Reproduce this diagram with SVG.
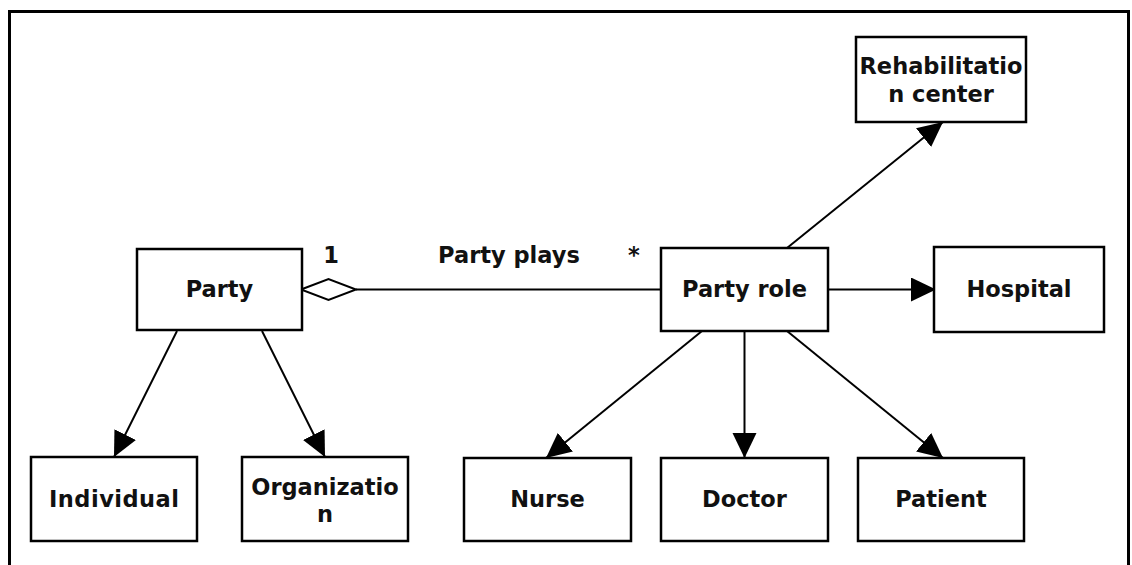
<svg xmlns="http://www.w3.org/2000/svg" width="1132" height="565" viewBox="0 0 1132 565">
  <style>
    .box { fill: #fff; stroke: #000; stroke-width: 2.5; }
    .lbl { font-family: "DejaVu Sans", Verdana, sans-serif; font-weight: bold; font-size: 22.5px; fill: #111; text-anchor: middle; }
    .edge { stroke: #000; stroke-width: 2; fill: none; }
  </style>
  <defs>
    <marker id="arrow" markerUnits="userSpaceOnUse" markerWidth="27" markerHeight="25" refX="25" refY="12" orient="auto">
      <path d="M0,0 L25,12 L0,24 Z" fill="#000"/>
    </marker>
  </defs>
  <rect width="1132" height="565" fill="#fff"/>
  <!-- outer frame -->
  <rect x="9.5" y="11.5" width="1119" height="600" fill="none" stroke="#000" stroke-width="3"/>

  <g id="connectors">
    <!-- aggregation Party <> Party role -->
    <line class="edge" x1="356" y1="289.5" x2="661" y2="289.5"/>
    <polygon points="301,289.5 328.5,279 356,289.5 328.5,300" fill="#fff" stroke="#000" stroke-width="2"/>
    <text class="lbl" x="331" y="263" font-size="20">1</text>
    <text class="lbl" x="509" y="263" font-size="21">Party plays</text>
    <text class="lbl" x="634" y="263" font-size="20">*</text>
    <!-- generalisations -->
    <line class="edge" x1="177" y1="331" x2="114" y2="457" marker-end="url(#arrow)"/>
    <line class="edge" x1="262" y1="331" x2="325" y2="457" marker-end="url(#arrow)"/>
    <line class="edge" x1="702" y1="331" x2="546" y2="458" marker-end="url(#arrow)"/>
    <line class="edge" x1="744.5" y1="331" x2="744.5" y2="458" marker-end="url(#arrow)"/>
    <line class="edge" x1="787" y1="331" x2="943" y2="458" marker-end="url(#arrow)"/>
    <line class="edge" x1="828" y1="289.5" x2="936" y2="289.5" marker-end="url(#arrow)"/>
    <line class="edge" x1="787" y1="248" x2="943" y2="122" marker-end="url(#arrow)"/>
  </g>

  <g id="party">
    <rect class="box" x="137" y="249" width="165" height="81"/>
    <text class="lbl" x="219.5" y="297">Party</text>
  </g>
  <g id="party-role">
    <rect class="box" x="661" y="248" width="167" height="83"/>
    <text class="lbl" x="744.5" y="297">Party role</text>
  </g>
  <g id="hospital">
    <rect class="box" x="934" y="247" width="170" height="85"/>
    <text class="lbl" x="1019" y="297">Hospital</text>
  </g>
  <g id="rehabilitation-center">
    <rect class="box" x="856" y="37" width="170" height="85"/>
    <text class="lbl" x="941" y="74">Rehabilitatio</text>
    <text class="lbl" x="941" y="102">n center</text>
  </g>
  <g id="individual">
    <rect class="box" x="31" y="457" width="166" height="84"/>
    <text class="lbl" x="114" y="507" textLength="130" lengthAdjust="spacing">Individual</text>
  </g>
  <g id="organization">
    <rect class="box" x="242" y="457" width="166" height="84"/>
    <text class="lbl" x="325" y="495">Organizatio</text>
    <text class="lbl" x="325" y="522">n</text>
  </g>
  <g id="nurse">
    <rect class="box" x="464" y="458" width="167" height="83"/>
    <text class="lbl" x="547.5" y="507">Nurse</text>
  </g>
  <g id="doctor">
    <rect class="box" x="661" y="458" width="167" height="83"/>
    <text class="lbl" x="744.5" y="507">Doctor</text>
  </g>
  <g id="patient">
    <rect class="box" x="858" y="458" width="166" height="83"/>
    <text class="lbl" x="941" y="507">Patient</text>
  </g>
</svg>
